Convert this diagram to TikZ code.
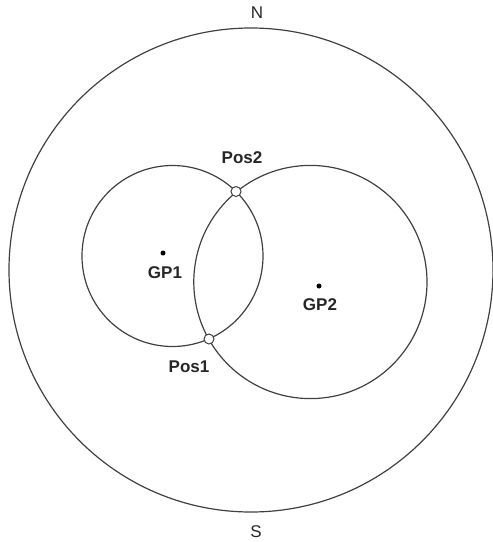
\documentclass[tikz,border=0pt]{standalone}
\usepackage{fontspec}
\setmainfont{Liberation Sans}
\begin{document}
\begin{tikzpicture}[x=1pt,y=-1pt,
  ring/.style={draw=black!75,line width=1.2pt},
  fix/.style={circle,draw=black!75,fill=white,line width=1pt,minimum size=10pt,inner sep=0pt},
  gp/.style={circle,fill=black,minimum size=5pt,inner sep=0pt},
  lab/.style={font=\fontsize{17}{17}\selectfont\bfseries,text=black!85,inner sep=0pt},
  pole/.style={font=\fontsize{17}{17}\selectfont,text=black!85,inner sep=0pt}]
\useasboundingbox (0,0) rectangle (493,542);
% horizon circle and the two position circles
\draw[ring] (251,270) circle[radius=242];
\draw[ring] (172.5,256) circle[radius=90.5];
\draw[ring] (310.4,282) circle[radius=116.6];
% geographic positions
\node[gp] (gp1) at (163,253) {};
\node[gp] (gp2) at (319,286) {};
\node[lab] (gp1l) at (165,273) {GP1};
\node[lab] (gp2l) at (320,305) {GP2};
% intersections
\node[fix] (pos2) at (236,191.5) {};
\node[fix] (pos1) at (209,339) {};
\node[lab] (pos2l) at (242,158) {Pos2};
\node[lab] (pos1l) at (189,367) {Pos1};
% cardinal points
\node[pole] (n) at (257,13) {N};
\node[pole] (s) at (256,532) {S};
\end{tikzpicture}
\end{document}
